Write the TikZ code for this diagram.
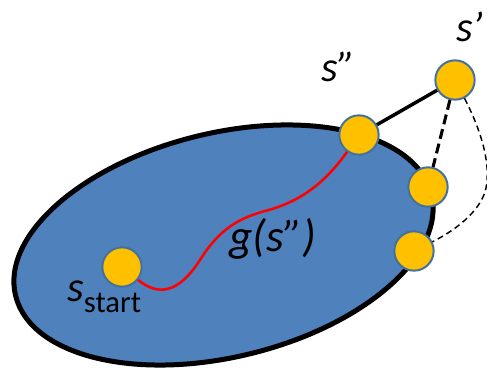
\documentclass[tikz,border=0pt]{standalone}
\usepackage{fontspec}
\setmainfont{Carlito}
\usepackage{tikz}
\usetikzlibrary{calc,positioning}
\definecolor{setblue}{HTML}{4F81BD}
\definecolor{stategold}{HTML}{FFC000}
\definecolor{stateedge}{HTML}{41719C}
\tikzset{
  state/.style={circle, fill=stategold, draw=stateedge, line width=1.5pt, minimum size=29.5pt, inner sep=0pt},
  lbl/.style={anchor=base west, inner sep=0pt, font=\fontsize{32}{38}\selectfont\itshape}
}

\begin{document}
\begin{tikzpicture}[x=0.75pt, y=0.75pt]
      \useasboundingbox (0,0) rectangle (487,368);
      \clip (0,0) rectangle (487,368);
      % Explored region
      \filldraw[fill=setblue, line width=3.75pt, rotate around={13.7:(223.5,123)}]
        (223.5,123) ellipse [x radius=214, y radius=112];
      % States
      \node[state] (start) at (122,101) {};
      \node[state] (spp) at (359,233) {};
      \node[state] (b1) at (428,181) {};
      \node[state] (b2) at (414,117) {};
      \node[state] (sp) at (455,288) {};
      % Edges from s'
      \draw[line width=2.6pt] (spp) -- (sp);
      \draw[line width=2.3pt, dash pattern=on 7.5pt off 3.75pt] (sp) -- (b1);
      \draw[line width=1.1pt, dash pattern=on 4.5pt off 3pt] (sp) .. controls (485,230) and (490,200) .. (486,180)
        .. controls (482,160) and (460,140) .. (b2);
      % Cost path g(s'')
      \draw[red, line width=1.9pt] (start) .. controls (158,72) and (178,74) .. (200,108)
        .. controls (220,140) and (240,150) .. (265,157)
        .. controls (300,166) and (325,185) .. (spp);
      % Labels
      \node[lbl, font=\fontsize{34}{40}\selectfont\itshape] (gl) at (229,116) {g(s”)};
      \node[lbl] (sppl) at (321,286) {s”};
      \node[lbl] (spl) at (456,326) {s’};
      \node[lbl] (startl) at (67,66) {s\raisebox{-8pt}{\fontsize{23}{27}\selectfont\upshape start}};
\end{tikzpicture}
\end{document}
